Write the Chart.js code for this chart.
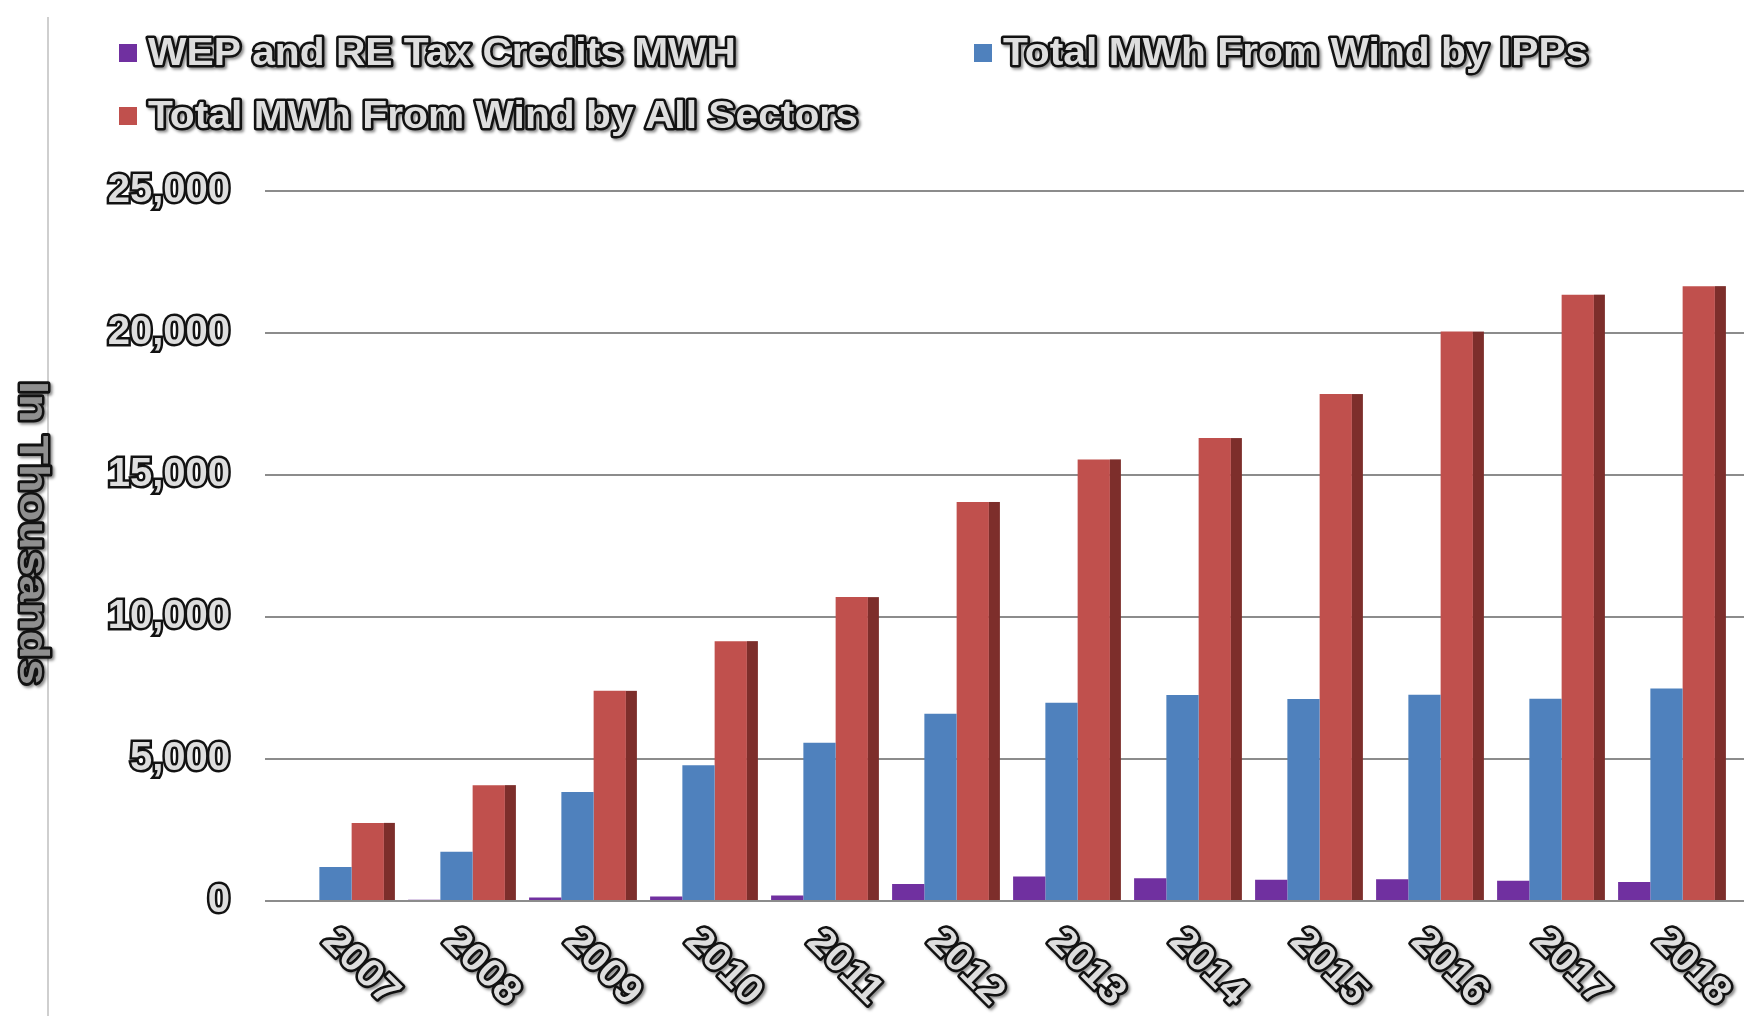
<!DOCTYPE html>
<html>
<head>
<meta charset="utf-8">
<script src="https://cdn.jsdelivr.net/npm/chart.js@4.4.1/dist/chart.umd.min.js"></script>
<style>
  html, body { margin: 0; padding: 0; background: #fff; }
  canvas { display: block; }
</style>
</head>
<body>
<canvas id="grafico" width="1744" height="1016"></canvas>
<script>
// data (thousands of MWh)
const years = ['2007','2008','2009','2010','2011','2012','2013','2014','2015','2016','2017','2018']
const wepCredits = [0, 45, 120, 155, 190, 595, 860, 800, 750, 765, 715, 670]
const windIPPs = [1200, 1730, 3840, 4780, 5570, 6590, 6980, 7250, 7110, 7260, 7120, 7480]
const windAllSectors = [2750, 4080, 7400, 9150, 10700, 14050, 15550, 16300, 17850, 20050, 21350, 21650]
const seriesNames = ['WEP and RE Tax Credits MWH', 'Total MWh From Wind by IPPs', 'Total MWh From Wind by All Sectors']
const yTitle = 'In Thousands'

const colPurple = '#7030a0'
const colBlue = '#4f81bd'
const colRed = '#c0504d'
const colRedSide = '#7d2e2b'
const gridGray = '#8c8c8c'
const fontFam = '"Liberation Sans", Arial, sans-serif'

// outlined "word art" text with a soft shadow, sx stretches it sideways
function outlined(ctx, text, x, y, size, sx, fill) {
    ctx.save()
    ctx.translate(x, y)
    ctx.scale(sx || 1, 1)
    ctx.font = 'bold ' + size + 'px ' + fontFam
    ctx.lineJoin = 'round'
    ctx.shadowColor = 'rgba(0,0,0,0.45)'
    ctx.shadowOffsetX = 2
    ctx.shadowOffsetY = 2
    ctx.shadowBlur = 3
    ctx.strokeStyle = '#121212'
    ctx.lineWidth = 5
    ctx.strokeText(text, 0, 0)
    ctx.shadowColor = 'transparent'
    ctx.fillStyle = fill || '#dedede'
    ctx.fillText(text, 0, 0)
    ctx.restore()
}

const decor = {
    id: 'decor',
    beforeDraw(chart) {
        const c = chart.ctx
        c.save()
        c.strokeStyle = '#cfcfcf'
        c.lineWidth = 2
        c.beginPath()
        c.moveTo(48, 17)
        c.lineTo(48, chart.height)
        c.stroke()
        // carry the value gridlines on to the right edge
        const ys = chart.scales.y
        c.strokeStyle = gridGray
        ys.ticks.forEach(t => {
            const py = ys.getPixelForValue(t.value)
            c.beginPath()
            c.moveTo(chart.chartArea.right, py)
            c.lineTo(chart.width, py)
            c.stroke()
        })
        c.restore()
    },
    afterDatasetsDraw(chart) {
        // darker side face on the red bars
        const c = chart.ctx
        const meta = chart.getDatasetMeta(2)
        c.save()
        c.fillStyle = colRedSide
        meta.data.forEach(bar => {
            const p = bar.getProps(['x', 'y', 'base', 'width'], true)
            c.fillRect(p.x + p.width / 2, p.y, 11, p.base - p.y)
        })
        c.restore()
    },
    afterDraw(chart) {
        const c = chart.ctx
        // legend
        const items = [
            { color: colPurple, text: seriesNames[0], x: 119, y: 53 },
            { color: colBlue, text: seriesNames[1], x: 974, y: 53 },
            { color: colRed, text: seriesNames[2], x: 119, y: 116 }
        ]
        items.forEach(it => {
            c.fillStyle = it.color
            c.fillRect(it.x, it.y - 9, 18, 18)
            c.textAlign = 'left'
            c.textBaseline = 'middle'
            outlined(c, it.text, it.x + 29, it.y + 1, 39, 1.045)
        })

        // x labels, slanted downwards
        const xs = chart.scales.x
        years.forEach((yr, i) => {
            const px = xs.getPixelForValue(i)
            c.save()
            c.translate(px + 25, 967)
            c.rotate(Math.PI / 4)
            c.textAlign = 'center'
            c.textBaseline = 'middle'
            outlined(c, yr, 0, 0, 39, 1.05)
            c.restore()
        })

        // y title, reading top to bottom
        c.save()
        c.translate(31, 533)
        c.rotate(Math.PI / 2)
        c.textAlign = 'center'
        c.textBaseline = 'middle'
        outlined(c, yTitle, 0, 0, 40, 1.17, '#8f8f8f')
        c.restore()
    }
}

const data = {
    labels: years,
    datasets: [
        { label: seriesNames[0], data: wepCredits, backgroundColor: colPurple },
        { label: seriesNames[1], data: windIPPs, backgroundColor: colBlue },
        { label: seriesNames[2], data: windAllSectors, backgroundColor: colRed }
    ]
}

const config = {
    type: 'bar',
    data,
    options: {
        responsive: false,
        animation: false,
        events: [],
        categoryPercentage: 0.8,
        barPercentage: 1.0,
        layout: { padding: { top: 191, right: 17, left: 0, bottom: 0 } },
        plugins: {
            legend: { display: false },
            tooltip: { enabled: false }
        },
        scales: {
            x: {
                grid: { display: false },
                border: { display: true, color: gridGray, width: 2 },
                ticks: { display: false },
                afterFit(s) { s.height = 115 }
            },
            y: {
                min: 0,
                max: 25000,
                ticks: {
                    stepSize: 5000,
                    padding: 35,
                    color: '#dedede',
                    textStrokeColor: '#121212',
                    textStrokeWidth: 5,
                    font: { family: fontFam, size: 40, weight: 'bold' }
                },
                grid: { color: gridGray, lineWidth: 2, tickLength: 10 },
                border: { display: false },
                afterFit(s) { s.width = 275 }
            }
        }
    },
    plugins: [decor]
}

const graph = new Chart(document.getElementById('grafico'), config)
</script>
</body>
</html>
